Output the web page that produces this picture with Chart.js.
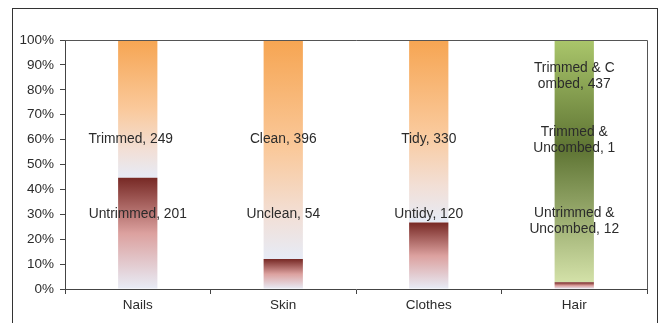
<!DOCTYPE html>
<html>
<head>
<meta charset="utf-8">
<script src="https://cdn.jsdelivr.net/npm/chart.js@4/dist/chart.umd.min.js"></script>
<style>
html, body { margin: 0; padding: 0; background: #fff; }
#wrap { position: relative; width: 661px; height: 323px; overflow: hidden; }
#frame { position: absolute; left: 12px; top: 8px; width: 644px; height: 340px; border: 1.5px solid #333; }
canvas { position: absolute; left: 0; top: 0; }
</style>
</head>
<body>
<div id="wrap">
  <div id="frame"></div>
  <canvas id="chart" width="661" height="323"></canvas>
</div>
<script>
// categories and counts
const categories = ['Nails', 'Skin', 'Clothes', 'Hair'];
const lowerCounts = [201, 54, 120, 12];
const middleCounts = [0, 0, 0, 1];
const upperCounts = [249, 396, 330, 437];

// segment names (\n = where the original label wraps)
const lowerNames = ['Untrimmed', 'Unclean', 'Untidy', 'Untrimmed &\nUncombed'];
const middleNames = [null, null, null, 'Trimmed &\nUncombed'];
const upperNames = ['Trimmed', 'Clean', 'Tidy', 'Trimmed & C\nombed'];

// where each data label sits on the percent axis (labels were hand placed)
const lowerLabelAt = [30, 30, 30, 27.3];
const middleLabelAt = [null, null, null, 59.8];
const upperLabelAt = [60, 60, 60, 85.5];
const upperLabelNudge = [-7, 0, 0, 0];

const yTicks = [0, 10, 20, 30, 40, 50, 60, 70, 80, 90, 100];

const totals = categories.map((c, i) => lowerCounts[i] + middleCounts[i] + upperCounts[i]);
const toPct = arr => arr.map((v, i) => v / totals[i] * 100);
const lowerPct = toPct(lowerCounts);
const middlePct = toPct(middleCounts);
const upperPct = toPct(upperCounts);
const series = [lowerPct, middlePct, upperPct];

const orange = [[0, '#F6A552'], [0.5, '#FAC99B'], [0.8, '#F2DFD6'], [1, '#E6EBF6']];
const maroon = [[0, '#772925'], [0.5, '#DCA19F'], [1, '#E8ECF6']];
const green = [[0, '#AAC66B'], [0.45, '#5E7433'], [1, '#D3E1A8']];

function segmentFill(dsIndex, pickStops) {
  return ctx => {
    const stops = pickStops(ctx.dataIndex);
    const chart = ctx.chart;
    if (ctx.type !== 'data' || !chart.chartArea || !chart.scales.y) return stops[0][1];
    const i = ctx.dataIndex;
    let base = 0;
    for (let d = 0; d < dsIndex; d++) base += series[d][i];
    const top = base + series[dsIndex][i];
    const y = chart.scales.y;
    const g = chart.ctx.createLinearGradient(0, y.getPixelForValue(top), 0, y.getPixelForValue(base));
    stops.forEach(s => g.addColorStop(s[0], s[1]));
    return g;
  };
}

const segLabels = {
  id: 'segLabels',
  afterDatasetsDraw(chart) {
    const c = chart.ctx;
    const y = chart.scales.y;
    const sets = [
      [lowerNames, lowerCounts, lowerLabelAt, null],
      [middleNames, middleCounts, middleLabelAt, null],
      [upperNames, upperCounts, upperLabelAt, upperLabelNudge]
    ];
    c.save();
    c.font = '13.8px "Liberation Sans", Arial, sans-serif';
    c.fillStyle = '#2b2b2b';
    c.textAlign = 'center';
    c.textBaseline = 'middle';
    sets.forEach((s, d) => {
      const meta = chart.getDatasetMeta(d);
      categories.forEach((cat, i) => {
        if (s[0][i] == null) return;
        const lines = (s[0][i] + ', ' + s[1][i]).split('\n');
        const x = meta.data[i].x + (s[3] ? s[3][i] : 0);
        const yc = y.getPixelForValue(s[2][i]);
        const lh = 16.5;
        lines.forEach((ln, k) => {
          c.fillText(ln, x, yc + (k - (lines.length - 1) / 2) * lh);
        });
      });
    });
    c.restore();
  }
};

const plotBox = {
  id: 'plotBox',
  afterDraw(chart) {
    const a = chart.chartArea;
    const c = chart.ctx;
    c.save();
    c.strokeStyle = '#555';
    c.lineWidth = 1;
    c.beginPath();
    c.moveTo(a.left, a.top + 0.5);
    c.lineTo(a.right + 0.5, a.top + 0.5);
    c.lineTo(a.right + 0.5, a.bottom);
    c.stroke();
    c.restore();
  }
};

new Chart(document.getElementById('chart'), {
  type: 'bar',
  data: {
    labels: categories,
    datasets: [
      { label: 'lower', data: lowerPct, backgroundColor: segmentFill(0, () => maroon) },
      { label: 'middle', data: middlePct, backgroundColor: segmentFill(1, () => green) },
      { label: 'upper', data: upperPct, backgroundColor: segmentFill(2, i => i === 3 ? green : orange) }
    ]
  },
  options: {
    responsive: false,
    animation: false,
    layout: { padding: { top: 40, right: 14, left: 0, bottom: 0 } },
    datasets: { bar: { categoryPercentage: 1, barPercentage: 0.27, borderWidth: 0 } },
    plugins: { legend: { display: false }, tooltip: { enabled: false } },
    scales: {
      x: {
        stacked: true,
        afterFit(scale) { scale.height = 34; },
        grid: { offset: true, drawOnChartArea: false, drawTicks: true, tickLength: 5, color: '#444' },
        border: { display: true, color: '#444', width: 1 },
        ticks: { color: '#2b2b2b', padding: 3, font: { family: '"Liberation Sans", Arial, sans-serif', size: 13.5 } }
      },
      y: {
        stacked: true,
        min: 0,
        max: 100,
        afterFit(scale) { scale.width = 65; },
        afterBuildTicks(scale) { scale.ticks = yTicks.map(v => ({ value: v })); },
        grid: { drawOnChartArea: false, drawTicks: true, tickLength: 5, color: '#444' },
        border: { display: true, color: '#444', width: 1 },
        ticks: {
          color: '#2b2b2b',
          padding: 6,
          font: { family: '"Liberation Sans", Arial, sans-serif', size: 13.5 },
          callback: v => v + '%'
        }
      }
    }
  },
  plugins: [segLabels, plotBox]
});
</script>
</body>
</html>
